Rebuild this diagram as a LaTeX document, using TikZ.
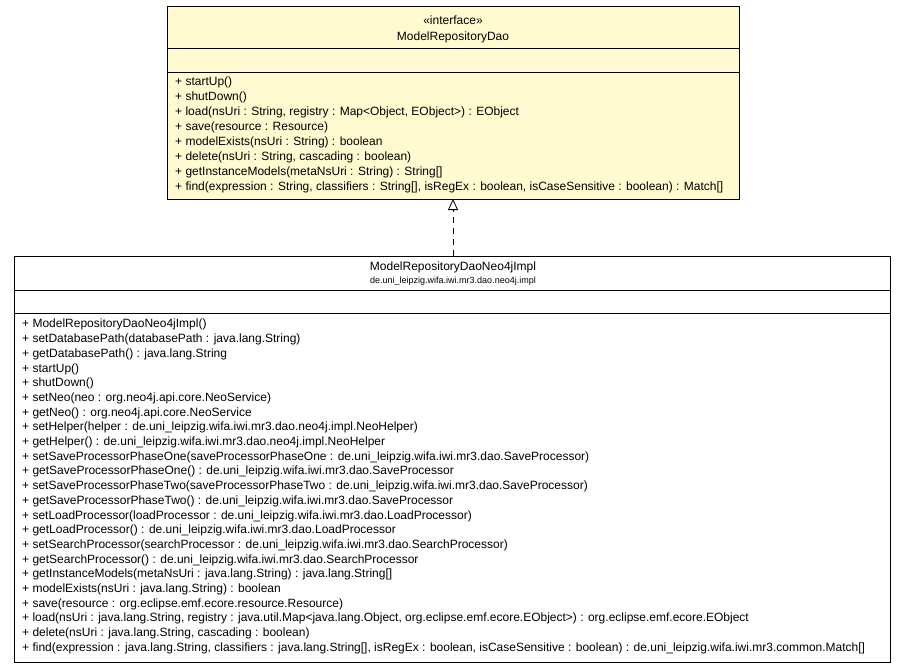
\documentclass[tikz,border=0pt]{standalone}
\usepackage{fontspec}
\setmainfont{Liberation Sans}
\usetikzlibrary{arrows.meta}
\definecolor{ifacefill}{RGB}{255,250,208}
\tikzset{
  umlbox/.style={draw=black, line width=1pt},
  methods/.style={anchor=north west, align=left, inner sep=0pt, font=\fontsize{12}{14.8}\selectfont},
  title/.style={inner sep=0pt, font=\fontsize{12}{13}\selectfont},
  realizes/.style={draw, line width=0.8pt, dash pattern=on 6pt off 5pt, -{Triangle[open, length=11pt, width=10pt]}}
}
\begin{document}
\begin{tikzpicture}[x=1pt, y=-1pt]
	\useasboundingbox (0,0) rectangle (907,669);
	% Interface
	\draw[umlbox, fill=ifacefill] (167,7) rectangle (739,199);
	\draw[umlbox] (167,49) -- (739,49);
	\draw[umlbox] (167,72) -- (739,72);
	\node[title] (ifstereo) at (453,20) {«interface»};
	\node[title] (ifname) at (453,37) {ModelRepositoryDao};
	\node[methods, font=\fontsize{12}{14.9}\selectfont] (ifops) at (175,77) {+ startUp()\\
+ shutDown()\\
+ load(nsUri : String, registry : Map<Object, EObject>) : EObject\\
+ save(resource : Resource)\\
+ modelExists(nsUri : String) : boolean\\
+ delete(nsUri : String, cascading : boolean)\\
+ getInstanceModels(metaNsUri : String) : String[]\\
+ find(expression : String, classifiers : String[], isRegEx : boolean, isCaseSensitive : boolean) : Match[]};
	\coordinate (ifbottom) at (453,199);
	% Implementation
	\draw[umlbox, fill=white] (14,256) rectangle (890,662);
	\draw[umlbox] (14,290) -- (890,290);
	\draw[umlbox] (14,313) -- (890,313);
	\node[title] (implname) at (453,267) {ModelRepositoryDaoNeo4jImpl};
	\node[title, font=\fontsize{9}{10}\selectfont] (implpkg) at (453,281) {de.uni\_leipzig.wifa.iwi.mr3.dao.neo4j.impl};
	\coordinate (impltop) at (453,256);
	\node[methods, font=\fontsize{12}{14.7}\selectfont] (implops) at (22,319) {+ ModelRepositoryDaoNeo4jImpl()\\
+ setDatabasePath(databasePath : java.lang.String)\\
+ getDatabasePath() : java.lang.String\\
+ startUp()\\
+ shutDown()\\
+ setNeo(neo : org.neo4j.api.core.NeoService)\\
+ getNeo() : org.neo4j.api.core.NeoService\\
+ setHelper(helper : de.uni\_leipzig.wifa.iwi.mr3.dao.neo4j.impl.NeoHelper)\\
+ getHelper() : de.uni\_leipzig.wifa.iwi.mr3.dao.neo4j.impl.NeoHelper\\
+ setSaveProcessorPhaseOne(saveProcessorPhaseOne : de.uni\_leipzig.wifa.iwi.mr3.dao.SaveProcessor)\\
+ getSaveProcessorPhaseOne() : de.uni\_leipzig.wifa.iwi.mr3.dao.SaveProcessor\\
+ setSaveProcessorPhaseTwo(saveProcessorPhaseTwo : de.uni\_leipzig.wifa.iwi.mr3.dao.SaveProcessor)\\
+ getSaveProcessorPhaseTwo() : de.uni\_leipzig.wifa.iwi.mr3.dao.SaveProcessor\\
+ setLoadProcessor(loadProcessor : de.uni\_leipzig.wifa.iwi.mr3.dao.LoadProcessor)\\
+ getLoadProcessor() : de.uni\_leipzig.wifa.iwi.mr3.dao.LoadProcessor\\
+ setSearchProcessor(searchProcessor : de.uni\_leipzig.wifa.iwi.mr3.dao.SearchProcessor)\\
+ getSearchProcessor() : de.uni\_leipzig.wifa.iwi.mr3.dao.SearchProcessor\\
+ getInstanceModels(metaNsUri : java.lang.String) : java.lang.String[]\\
+ modelExists(nsUri : java.lang.String) : boolean\\
+ save(resource : org.eclipse.emf.ecore.resource.Resource)\\
+ load(nsUri : java.lang.String, registry : java.util.Map<java.lang.Object, org.eclipse.emf.ecore.EObject>) : org.eclipse.emf.ecore.EObject\\
+ delete(nsUri : java.lang.String, cascading : boolean)\\
+ find(expression : java.lang.String, classifiers : java.lang.String[], isRegEx : boolean, isCaseSensitive : boolean) : de.uni\_leipzig.wifa.iwi.mr3.common.Match[]};
	% Realization
	\draw[realizes] (impltop) -- (ifbottom);
\end{tikzpicture}
\end{document}
